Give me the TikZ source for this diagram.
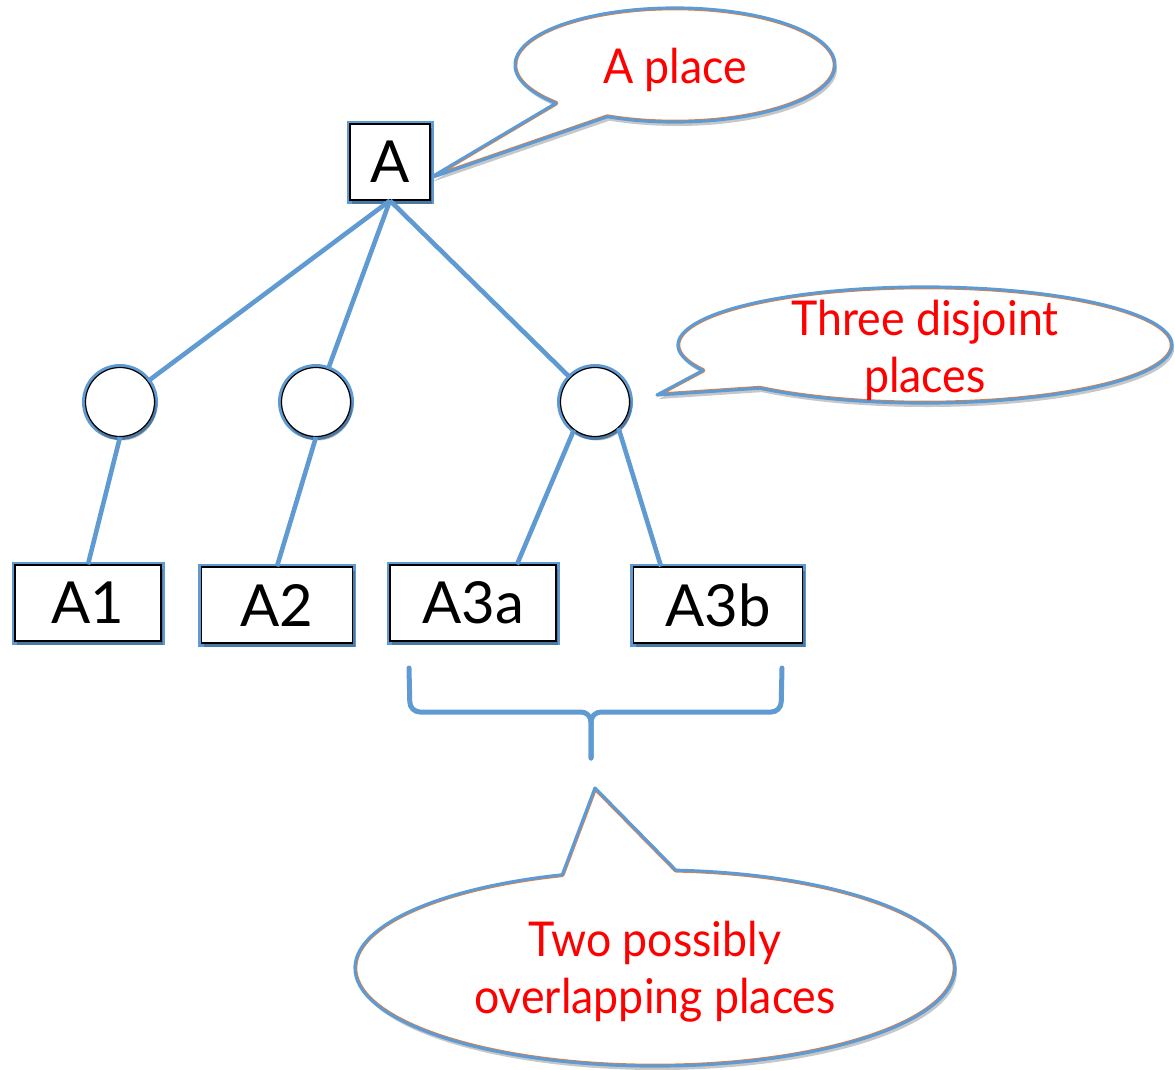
\documentclass[tikz,border=0pt]{standalone}
\usepackage{fontspec}
\setmainfont{Lato}
\newfontfamily\notefont{Lato}[FakeStretch=0.93]
\usetikzlibrary{shadows,calc}
\definecolor{linkblue}{RGB}{95,155,210}
\definecolor{rimorange}{RGB}{237,125,49}
\definecolor{notered}{RGB}{255,0,0}

% outlines of the three speech bubbles: elliptical body merged with a pointed tail
\newcommand\bubbleShapeOne{($(675,65)+(138:160 and 57)$)
  arc[start angle=138,end angle=475,x radius=160,y radius=57]
  -- (430,178) -- cycle}
\newcommand\bubbleShapeTwo{($(925,345)+(154:247 and 58)$)
  arc[start angle=154,end angle=492,x radius=247,y radius=58]
  -- (657,395) -- cycle}
\newcommand\bubbleShapeThree{($(655,968)+(274:300 and 98)$)
  arc[start angle=274,end angle=612,x radius=300,y radius=98]
  -- (595,788) -- cycle}

% white body with shadow, thin orange rim on the inside, blue outline
\newcommand\drawBubble[1]{%
  \path[fill=white,softshadow] #1;
  \begin{scope}
    \clip #1;
    \draw[rimorange,line width=4.6pt,line join=round] #1;
  \end{scope}
  \draw[linkblue,line width=3.2pt,line join=round] #1;
}

\begin{document}
\begin{tikzpicture}[x=1pt,y=-1pt,
  softshadow/.style={drop shadow={shadow xshift=2pt,shadow yshift=-4pt,opacity=0.22,fill=black}},
  placebox/.style={draw=black,line width=1.2pt,fill=white,inner sep=0pt,
    minimum height=76pt,font=\fontsize{58}{60}\selectfont,
    preaction={draw=linkblue,line width=7pt},softshadow},
  placeround/.style={circle,draw=black,line width=1.2pt,fill=white,inner sep=0pt,
    minimum size=69pt,preaction={draw=linkblue,line width=7pt},softshadow},
  treeedge/.style={draw=linkblue,line width=4.6pt},
  bracestroke/.style={draw=linkblue,line width=5pt,line cap=round,rounded corners=10pt},
  bubbletext/.style={text=notered,align=center,inner sep=0pt,
    font=\notefont\fontsize{48}{57}\selectfont}]

\useasboundingbox (0,0) rectangle (1175,1069);

\drawBubble{\bubbleShapeOne}
\drawBubble{\bubbleShapeTwo}
\drawBubble{\bubbleShapeThree}

\node[bubbletext] (noteA) at (675,70) {A place};
\node[bubbletext] (noteThree) at (925,350) {Three disjoint\\places};
\node[bubbletext] (noteTwo) at (655,972) {Two possibly\\overlapping places};

% the hierarchy of places
\node[placebox,minimum width=80pt] (A) at (390,162) {A};
\node[placeround] (c1) at (120,402) {};
\node[placeround] (c2) at (316,402) {};
\node[placeround] (c3) at (595,402) {};
\node[placebox,minimum width=146pt] (A1) at (88,603) {A1};
\node[placebox,minimum width=151pt] (A2) at (277,605) {A2};
\node[placebox,minimum width=166pt] (A3a) at (473,603) {A3a};
\node[placebox,minimum width=169pt] (A3b) at (718,605) {A3b};

\draw[treeedge] (A.south) -- (c1);
\draw[treeedge] (A.south) -- (c2);
\draw[treeedge] (A.south) -- (c3);
\draw[treeedge] (c1.south) -- (A1.north);
\draw[treeedge] (c2.south) -- (A2.north);
\draw[treeedge] (c3.-127) -- ([xshift=44pt]A3a.north);
\draw[treeedge] (c3.-48) -- ([xshift=-57pt]A3b.north);

% brace grouping A3a and A3b
\coordinate (braceL) at (409,668);
\coordinate (braceR) at (782,668);
\coordinate (braceTip) at (591,758);
\draw[bracestroke] (braceL) -- (410,712) -- (591,712) -- (braceTip);
\draw[bracestroke] (braceR) -- (781,712) -- (591,712) -- (braceTip);

\end{tikzpicture}
\end{document}
